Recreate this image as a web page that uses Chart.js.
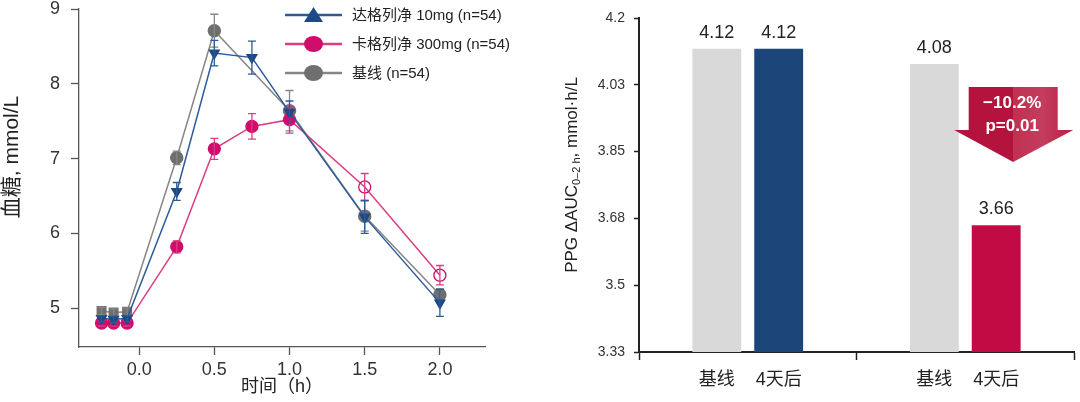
<!DOCTYPE html>
<html lang="zh">
<head>
<meta charset="UTF-8" />
<title>达格列净 vs 卡格列净 餐后血糖</title>
<script src="https://cdn.jsdelivr.net/npm/chart.js@4.4.0/dist/chart.umd.min.js"></script>
<style>
  html, body { margin: 0; padding: 0; background: #fff; }
  body { width: 1080px; height: 402px; position: relative; overflow: hidden; }
  #left { position: absolute; left: 0; top: 0; width: 530px; height: 402px; }
  #right { position: absolute; left: 540px; top: 0; width: 540px; height: 402px; }
</style>
</head>
<body>
<div id="left"><canvas id="glucoseChart"></canvas></div>
<div id="right"><canvas id="aucChart"></canvas></div>

<script>
// left panel: blood glucose over time (mean +/- error)
const times = [-0.25, -0.17, -0.08, 0.25, 0.5, 0.75, 1.0, 1.5, 2.0];
const dapaMean = [4.86, 4.85, 4.86, 6.56, 8.41, 8.35, 7.62, 6.22, 5.07];
const dapaErr  = [0.04, 0.04, 0.04, 0.12, 0.17, 0.22, 0.15, 0.22, 0.18];
const canaMean = [4.80, 4.80, 4.80, 5.82, 7.13, 7.43, 7.52, 6.62, 5.44];
const canaErr  = [0.04, 0.04, 0.04, 0.08, 0.14, 0.17, 0.18, 0.18, 0.13];
const baseMean = [4.96, 4.94, 4.95, 7.01, 8.71, null, 7.64, 6.23, 5.18];
const baseErr  = [0.05, 0.05, 0.05, 0.09, 0.22, null, 0.27, 0.20, 0.08];
const xTicks = [0, 0.5, 1.0, 1.5, 2.0];
const yTicks = [5, 6, 7, 8, 9];
const seriesNames = ['达格列净 10mg (n=54)', '卡格列净 300mg (n=54)', '基线 (n=54)'];

// right panel: PPG ΔAUC bars
const groups = ['达格列净 10mg', '卡格列净 300mg'];
const barNames = ['基线', '4天后'];
const aucBaseline = [4.12, 4.08];
const aucAfter = [4.12, 3.66];
const aucTickValues = [3.33, 3.504, 3.678, 3.852, 4.026, 4.2];
const aucTickLabels = ['3.33', '3.5', '3.68', '3.85', '4.03', '4.2'];
const changeText = ['−10.2%', 'p=0.01'];

const FONT = "'Liberation Sans', Arial, 'Noto Sans CJK SC', sans-serif";
const BLUE = '#2b5b98', BLUE_DARK = '#1d4a85';
const PINK = '#dc3d85', PINK_DARK = '#d10c6b';
const GREY = '#868686', GREY_DARK = '#6f6f6f';

function pairs(means) {
  return times.map((t, i) => ({ x: t, y: means[i] }));
}

const errorBars = {
  id: 'errorBars',
  afterDatasetDraw(chart, args) {
    const ds = chart.data.datasets[args.index];
    if (!ds.errors) return;
    const y = chart.scales.y;
    const ctx = chart.ctx;
    ctx.save();
    ctx.strokeStyle = ds.borderColor;
    ctx.lineWidth = 1.3;
    args.meta.data.forEach((pt, i) => {
      const m = ds.data[i].y, e = ds.errors[i];
      if (m == null || e == null) return;
      const top = y.getPixelForValue(m + e);
      const bot = y.getPixelForValue(m - e);
      ctx.beginPath();
      ctx.moveTo(pt.x, top); ctx.lineTo(pt.x, bot);
      ctx.moveTo(pt.x - 4, top); ctx.lineTo(pt.x + 4, top);
      ctx.moveTo(pt.x - 4, bot); ctx.lineTo(pt.x + 4, bot);
      ctx.stroke();
    });
    ctx.restore();
  }
};

const lineLegend = {
  id: 'lineLegend',
  afterDraw(chart, args, opts) {
    const ctx = chart.ctx;
    ctx.save();
    chart.data.datasets.forEach((ds, i) => {
      const y = opts.top + i * opts.gap;
      const mx = opts.x + opts.len / 2;
      ctx.strokeStyle = ds.borderColor;
      ctx.lineWidth = 2.5;
      ctx.beginPath();
      ctx.moveTo(opts.x, y); ctx.lineTo(opts.x + opts.len, y);
      ctx.stroke();
      ctx.fillStyle = ds.legendColor;
      ctx.beginPath();
      if (ds.legendMarker === 'triangle') {
        ctx.moveTo(mx, y - 8); ctx.lineTo(mx + 9.5, y + 7); ctx.lineTo(mx - 9.5, y + 7);
        ctx.closePath();
      } else {
        ctx.ellipse(mx, y, 9.5, 8, 0, 0, Math.PI * 2);
      }
      ctx.fill();
      ctx.fillStyle = '#222';
      ctx.font = '15px ' + FONT;
      ctx.textBaseline = 'middle';
      ctx.textAlign = 'left';
      ctx.fillText(ds.label, opts.x + opts.len + 10, y + 1);
    });
    ctx.restore();
  }
};

const leftYTitle = {
  id: 'leftYTitle',
  afterDraw(chart) {
    const ctx = chart.ctx;
    const a = chart.chartArea;
    ctx.save();
    ctx.translate(12, (a.top + a.bottom) / 2 - 21);
    ctx.rotate(-Math.PI / 2);
    ctx.font = '21px ' + FONT;
    ctx.fillStyle = '#222';
    ctx.textAlign = 'center';
    ctx.textBaseline = 'middle';
    ctx.fillText('血糖, mmol/L', 0, 0);
    ctx.restore();
  }
};

new Chart(document.getElementById('glucoseChart'), {
  type: 'line',
  data: {
    datasets: [
      {
        label: seriesNames[0],
        data: pairs(dapaMean),
        errors: dapaErr,
        borderColor: BLUE,
        borderWidth: 1.5,
        pointStyle: 'triangle',
        rotation: 180,
        pointRadius: 5.5,
        pointBackgroundColor: BLUE_DARK,
        pointBorderColor: BLUE_DARK,
        legendMarker: 'triangle',
        legendColor: BLUE_DARK
      },
      {
        label: seriesNames[1],
        data: pairs(canaMean),
        errors: canaErr,
        borderColor: PINK,
        borderWidth: 1.5,
        pointStyle: 'circle',
        pointRadius: 6,
        pointBorderWidth: 1.3,
        pointBackgroundColor: canaMean.map((v, i) => i < 7 ? PINK_DARK : 'rgba(0,0,0,0)'),
        pointBorderColor: PINK_DARK,
        legendMarker: 'circle',
        legendColor: PINK_DARK
      },
      {
        label: seriesNames[2],
        data: pairs(baseMean),
        errors: baseErr,
        spanGaps: true,
        borderColor: GREY,
        borderWidth: 1.5,
        pointStyle: baseMean.map((v, i) => i < 3 ? 'rect' : 'circle'),
        pointRadius: 6,
        pointBackgroundColor: GREY_DARK,
        pointBorderColor: GREY_DARK,
        legendMarker: 'circle',
        legendColor: GREY_DARK
      }
    ]
  },
  options: {
    responsive: true,
    maintainAspectRatio: false,
    animation: false,
    layout: { padding: { top: 9, right: 45 } },
    plugins: {
      legend: { display: false },
      tooltip: { enabled: false },
      lineLegend: { x: 285, len: 57, top: 15, gap: 29 }
    },
    scales: {
      x: {
        type: 'linear',
        min: -0.4,
        max: 2.3,
        afterBuildTicks: s => { s.ticks = xTicks.map(v => ({ value: v })); },
        afterFit: s => { s.height = 55; },
        grid: { drawOnChartArea: false, tickLength: 8, tickColor: '#555', tickWidth: 1.3 },
        border: { color: '#555', width: 1.3 },
        ticks: {
          color: '#333',
          padding: 4,
          font: { size: 18, family: FONT },
          callback: v => v.toFixed(1)
        },
        title: {
          display: true,
          text: '时间（h）',
          color: '#222',
          font: { size: 18, family: FONT },
          padding: { top: 0, bottom: 4 }
        }
      },
      y: {
        min: 4.48,
        max: 9,
        afterBuildTicks: s => { s.ticks = yTicks.map(v => ({ value: v })); },
        afterFit: s => { s.width = 79; s.paddingTop = 0; s.paddingBottom = 0; },
        grid: { drawOnChartArea: false, tickLength: 8, tickColor: '#555', tickWidth: 1.3 },
        border: { color: '#555', width: 1.3 },
        ticks: {
          color: '#333',
          padding: 11,
          font: { size: 18, family: FONT }
        }
      }
    }
  },
  plugins: [errorBars, lineLegend, leftYTitle]
});

// ---------- right panel ----------
const barText = {
  id: 'barText',
  afterDatasetsDraw(chart) {
    const ctx = chart.ctx;
    const a = chart.chartArea;
    ctx.save();
    ctx.textAlign = 'center';
    ctx.fillStyle = '#222';
    chart.data.datasets.forEach((ds, di) => {
      chart.getDatasetMeta(di).data.forEach((bar, i) => {
        ctx.font = '18px ' + FONT;
        ctx.textBaseline = 'alphabetic';
        ctx.fillText(ds.data[i].toFixed(2), bar.x, bar.y - 11);
        ctx.textBaseline = 'middle';
        ctx.fillText(ds.label, bar.x, a.bottom + 28);
      });
    });
    ctx.restore();
  }
};

const dropArrow = {
  id: 'dropArrow',
  afterDatasetsDraw(chart) {
    const bar = chart.getDatasetMeta(1).data[1];
    const y = chart.scales.y;
    const ctx = chart.ctx;
    const cx = bar.x + 17;
    const top = y.getPixelForValue(4.02);
    const neck = y.getPixelForValue(3.908);
    const tip = y.getPixelForValue(3.825);
    const g = ctx.createLinearGradient(cx - 60, 0, cx + 60, 0);
    g.addColorStop(0, '#b3133d');
    g.addColorStop(0.5, '#b3133d');
    g.addColorStop(0.5, '#c0304f');
    g.addColorStop(0.75, '#c43d5f');
    g.addColorStop(1, '#b81c45');
    ctx.save();
    ctx.fillStyle = g;
    ctx.beginPath();
    ctx.moveTo(cx - 44.5, top);
    ctx.lineTo(cx + 44.5, top);
    ctx.lineTo(cx + 44.5, neck);
    ctx.lineTo(cx + 60, neck);
    ctx.lineTo(cx, tip);
    ctx.lineTo(cx - 59, neck);
    ctx.lineTo(cx - 44.5, neck);
    ctx.closePath();
    ctx.fill();
    ctx.fillStyle = '#fff';
    ctx.font = 'bold 17px ' + FONT;
    ctx.textAlign = 'center';
    ctx.textBaseline = 'middle';
    ctx.fillText(changeText[0], cx - 1, top + 16);
    ctx.fillText(changeText[1], cx - 1, top + 39);
    ctx.restore();
  }
};

const aucYTitle = {
  id: 'aucYTitle',
  afterDraw(chart) {
    const ctx = chart.ctx;
    const parts = [
      { t: 'PPG ΔAUC', size: 17, dy: 0 },
      { t: '0–2 h', size: 11, dy: 5 },
      { t: ', mmol·h/L', size: 17, dy: 0 }
    ];
    ctx.save();
    let total = 0;
    parts.forEach(p => { ctx.font = p.size + 'px ' + FONT; p.w = ctx.measureText(p.t).width; total += p.w; });
    ctx.translate(32, 175);
    ctx.rotate(-Math.PI / 2);
    ctx.fillStyle = '#222';
    ctx.textAlign = 'left';
    ctx.textBaseline = 'middle';
    let x = -total / 2;
    parts.forEach(p => {
      ctx.font = p.size + 'px ' + FONT;
      ctx.fillText(p.t, x, p.dy);
      x += p.w;
    });
    ctx.restore();
  }
};

new Chart(document.getElementById('aucChart'), {
  type: 'bar',
  data: {
    labels: groups,
    datasets: [
      {
        label: barNames[0],
        data: aucBaseline,
        backgroundColor: '#d9d9d9',
        categoryPercentage: 0.569,
        barPercentage: 0.79
      },
      {
        label: barNames[1],
        data: aucAfter,
        backgroundColor: ['#1c467a', '#c20b44'],
        categoryPercentage: 0.569,
        barPercentage: 0.79
      }
    ]
  },
  options: {
    responsive: true,
    maintainAspectRatio: false,
    animation: false,
    layout: { padding: { top: 18, right: 6 } },
    plugins: { legend: { display: false }, tooltip: { enabled: false } },
    scales: {
      x: {
        offset: true,
        grid: { offset: true, drawOnChartArea: false, tickLength: 8, tickColor: '#222', tickWidth: 1.5 },
        border: { color: '#222', width: 2 },
        ticks: { display: false },
        afterFit: s => { s.height = 50; }
      },
      y: {
        min: 3.33,
        max: 4.2,
        afterBuildTicks: s => { s.ticks = aucTickValues.map(v => ({ value: v })); },
        afterFit: s => { s.width = 99; s.paddingTop = 0; s.paddingBottom = 0; },
        grid: { drawOnChartArea: false, tickLength: 5, tickColor: '#222', tickWidth: 1.5 },
        border: { color: '#222', width: 2 },
        ticks: {
          color: '#333',
          padding: 9,
          font: { size: 14, family: FONT },
          callback: (v, i) => aucTickLabels[i]
        }
      }
    }
  },
  plugins: [barText, dropArrow, aucYTitle]
});
</script>
</body>
</html>
